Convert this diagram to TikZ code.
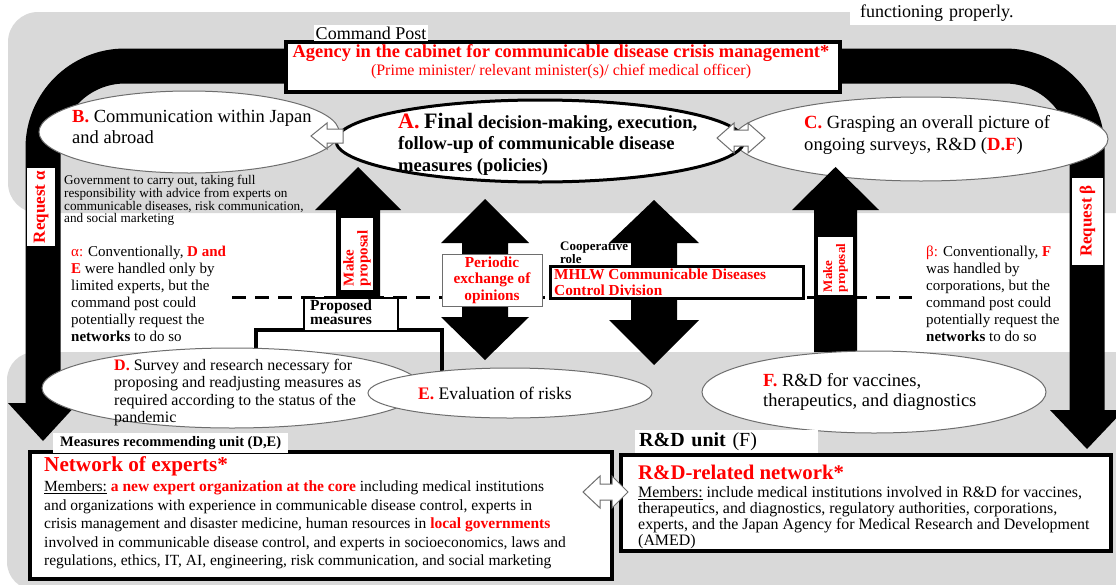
\documentclass[tikz,border=0pt]{standalone}
\usepackage{fontspec}
\setmainfont{Liberation Serif}
\usetikzlibrary{shapes.geometric}
\definecolor{bandgray}{RGB}{217,217,217}
\definecolor{rimgray}{RGB}{110,110,110}
\newcommand{\rb}[1]{\textcolor{red}{\textbf{#1}}}
\newcommand{\fsz}[2]{\fontsize{#1}{#2}\selectfont}

\begin{document}
\begin{tikzpicture}[x=1pt,y=-1pt,
  oval/.style={ellipse,draw=rimgray,fill=white,line width=1pt},
  hollow/.style={draw=rimgray,fill=white,line width=1pt},
  txt/.style={anchor=north west,align=left},
  tag/.style={fill=white}]
\tikzstyle{every node}+=[inner sep=0pt]
\useasboundingbox (0,0) rectangle (1116,584);
% grey bands
\fill [bandgray,rounded corners=30pt] (8,12) rectangle (1150,213);
\fill [bandgray,rounded corners=28pt] (7,352) rectangle (1150,590);
\node [tag,anchor=north west,minimum height=25,text width=256,inner xsep=10pt,align=left,font=\fsz{18}{20}] (note) at (850,0) {functioning properly.};
% request loop
\draw [line width=35pt,rounded corners=82pt] (43,404) -- (43,66) -- (1087,66) -- (1087,411);
\fill (8,403) -- (78,403) -- (43,441) -- cycle;
\fill (1050,410) -- (1124,410) -- (1087,449) -- cycle;
\node [tag,rotate=90,minimum width=78,minimum height=28,text=red,font=\bfseries\fsz{17}{17}] (reqa) at (41,207) {Request α};
\node [tag,rotate=90,minimum width=87,minimum height=31,text=red,font=\bfseries\fsz{17}{17}] (reqb) at (1087.5,221) {Request β};
% command post
\node [draw,fill=white,line width=3.5pt,anchor=north west,minimum width=554,minimum height=50] (agency) at (284,40) {};
\node [text=red,font=\bfseries\fsz{18.4}{20}] (agencyt) at (561,53) {Agency in the cabinet for communicable disease crisis management*};
\node [text=red,font=\fsz{16}{17}] (agencys) at (561,72) {(Prime minister/ relevant minister(s)/ chief medical officer)};
\node [tag,inner xsep=2pt,inner ysep=1.5pt,font=\fsz{18}{18}] (post) at (371,33) {Command Post};
% upper ellipses
\node [oval,minimum width=374,minimum height=84] (C) at (921,139) {};
\node [oval,draw=black,line width=3pt,minimum width=408,minimum height=82] (A) at (540,141) {};
\node [oval,minimum width=300,minimum height=82] (B) at (189,132) {};
\node [txt,font=\fsz{18.5}{21}] (Bt) at (72,109) {\textcolor{red}{\textbf{B.}} Communication within Japan\\and abroad};
\node [txt,font=\bfseries\fsz{18.6}{21.5}] (At) at (398,113) {{\color{red}\fsz{22}{21.5}A.} {\fsz{22}{21.5}Final} decision-making, execution,\\follow-up of communicable disease\\measures (policies)};
\node [txt,font=\fsz{18.6}{22}] (Ct) at (804,115) {\rb{C.} Grasping an overall picture of\\ongoing surveys, R\&D (\rb{D.F})};
\draw [hollow] (311,136) -- (327,123) -- (327,129) -- (343,129) -- (343,143) -- (327,143) -- (327,149) -- cycle;
\draw [hollow] (717,138) -- (734,123) -- (734,130) -- (748,130) -- (748,123) -- (765,138) -- (748,153) -- (748,146) -- (734,146) -- (734,153) -- cycle;
% notes
\node [txt,font=\fsz{13.2}{11.7}] (gov) at (64,175) {Government to carry out, taking full\\responsibility with advice from experts on\\communicable diseases, risk communication,\\and social marketing};
\node [txt,font=\fsz{15}{17}] (alpha) at (71,246) {\textcolor{red}{α:} Conventionally, \rb{D and}\\\rb{E} were handled only by\\limited experts, but the\\command post could\\potentially request the\\\textbf{networks} to do so};
\node [txt,font=\fsz{15}{17}] (beta) at (926,246) {\textcolor{red}{β:} Conventionally, \rb{F}\\was handled by\\corporations, but the\\command post could\\potentially request the\\\textbf{networks} to do so};
% big arrows
\fill (336,297) -- (336,210) -- (315,210) -- (358,167) -- (401,210) -- (380,210) -- (380,297) -- cycle;
\fill (814,352) -- (814,210) -- (792,210) -- (835.5,167) -- (879,210) -- (857,210) -- (857,352) -- cycle;
\fill (485,199) -- (529,243) -- (508,243) -- (508,317) -- (529,317) -- (485,360) -- (441,317) -- (462,317) -- (462,243) -- (441,243) -- cycle;
\fill (654,200) -- (699,243) -- (677,243) -- (677,320) -- (699,320) -- (654,365) -- (609,320) -- (631,320) -- (631,243) -- (609,243) -- cycle;
\node [tag,rotate=90,text width=64,inner xsep=4pt,minimum height=32,align=left,text=red,font=\bfseries\fsz{15}{14}] (mpl) at (357,254) {Make\\proposal};
\node [tag,rotate=90,text width=52,inner xsep=3pt,minimum height=35,align=left,text=red,font=\bfseries\fsz{13}{13}] (mpr) at (835.5,266) {Make\\proposal};
% dashed border line
\draw [line width=3pt,dash pattern=on 14pt off 9pt] (232,297) -- (912,297);
\draw [line width=4pt] (256,352) -- (256,330) -- (442,330) -- (442,376);
\node [draw,fill=white,line width=1.5pt,anchor=north west,minimum width=94,minimum height=33] (prop) at (303,297) {};
\node [txt,font=\bfseries\fsz{15.5}{14}] (propt) at (310,299.5) {Proposed\\measures};
\node [draw=rimgray,fill=white,line width=1pt,minimum width=100,minimum height=52,align=center,text=red,font=\bfseries\fsz{15.3}{16.5}] (periodic) at (492,280) {Periodic\\exchange of\\opinions};
\node [txt,font=\bfseries\fsz{13}{13}] (coop) at (560,241) {Cooperative\\role};
\node [draw,fill=white,line width=3pt,anchor=north west,minimum width=253,minimum height=32] (mhlw) at (549,265) {};
\node [txt,text=red,font=\bfseries\fsz{15.3}{16}] (mhlwt) at (554,269) {MHLW Communicable Diseases\\Control Division};
% lower ellipses
\node [oval,minimum width=380,minimum height=80] (D) at (232,388) {};
\node [oval,minimum width=284,minimum height=50] (E) at (510,393) {};
\node [oval,minimum width=344,minimum height=82] (F) at (874,392) {};
\node [txt,font=\fsz{16}{17.5}] (Dt) at (114,359) {\rb{D.} Survey and research necessary for\\proposing and readjusting measures as\\required according to the status of the\\pandemic};
\node [anchor=west,font=\fsz{17.6}{17}] (Et) at (418,393) {\rb{E.} Evaluation of risks};
\node [txt,font=\fsz{18.5}{20}] (Ft) at (763,373) {\rb{F.} R\&D for vaccines,\\therapeutics, and diagnostics};
% networks
\node [draw,fill=white,line width=3.5pt,anchor=north west,minimum width=582,minimum height=127] (experts) at (28,450) {};
\node [tag,anchor=west,inner xsep=7pt,inner ysep=3pt,font=\bfseries\fsz{14.5}{15}] (mru) at (53,443) {Measures recommending unit (D,E)};
\node [anchor=west,text=red,font=\bfseries\fsz{21.2}{22}] (expt) at (44,466) {Network of experts*};
\node [txt,font=\fsz{15.5}{18.5}] (expm) at (44,481) {\underline{Members:} \rb{a new expert organization at the core} including medical institutions\\and organizations with experience in communicable disease control, experts in\\crisis management and disaster medicine, human resources in \rb{local governments}\\involved in communicable disease control, and experts in socioeconomics, laws and\\regulations, ethics, IT, AI, engineering, risk communication, and social marketing};
\node [draw,fill=white,line width=3.5pt,anchor=north west,minimum width=490,minimum height=96] (rnd) at (619,453) {};
\node [tag,anchor=north west,minimum height=23,text width=175,inner xsep=4pt,align=left,font=\fsz{20}{20}] (rndu) at (635,430) {\textbf{R\&D unit} (F)};
\node [anchor=west,text=red,font=\bfseries\fsz{20.8}{22}] (rndt) at (638,472) {R\&D-related network*};
\node [txt,font=\fsz{15.9}{16}] (rndm) at (638,486) {\underline{Members:} include medical institutions involved in R\&D for vaccines,\\therapeutics, and diagnostics, regulatory authorities, corporations,\\experts, and the Japan Agency for Medical Research and Development\\(AMED)};
\draw [hollow] (583,492) -- (600,476) -- (600,484) -- (612,484) -- (612,476) -- (628,492) -- (612,508) -- (612,500) -- (600,500) -- (600,508) -- cycle;
\end{tikzpicture}
\end{document}
